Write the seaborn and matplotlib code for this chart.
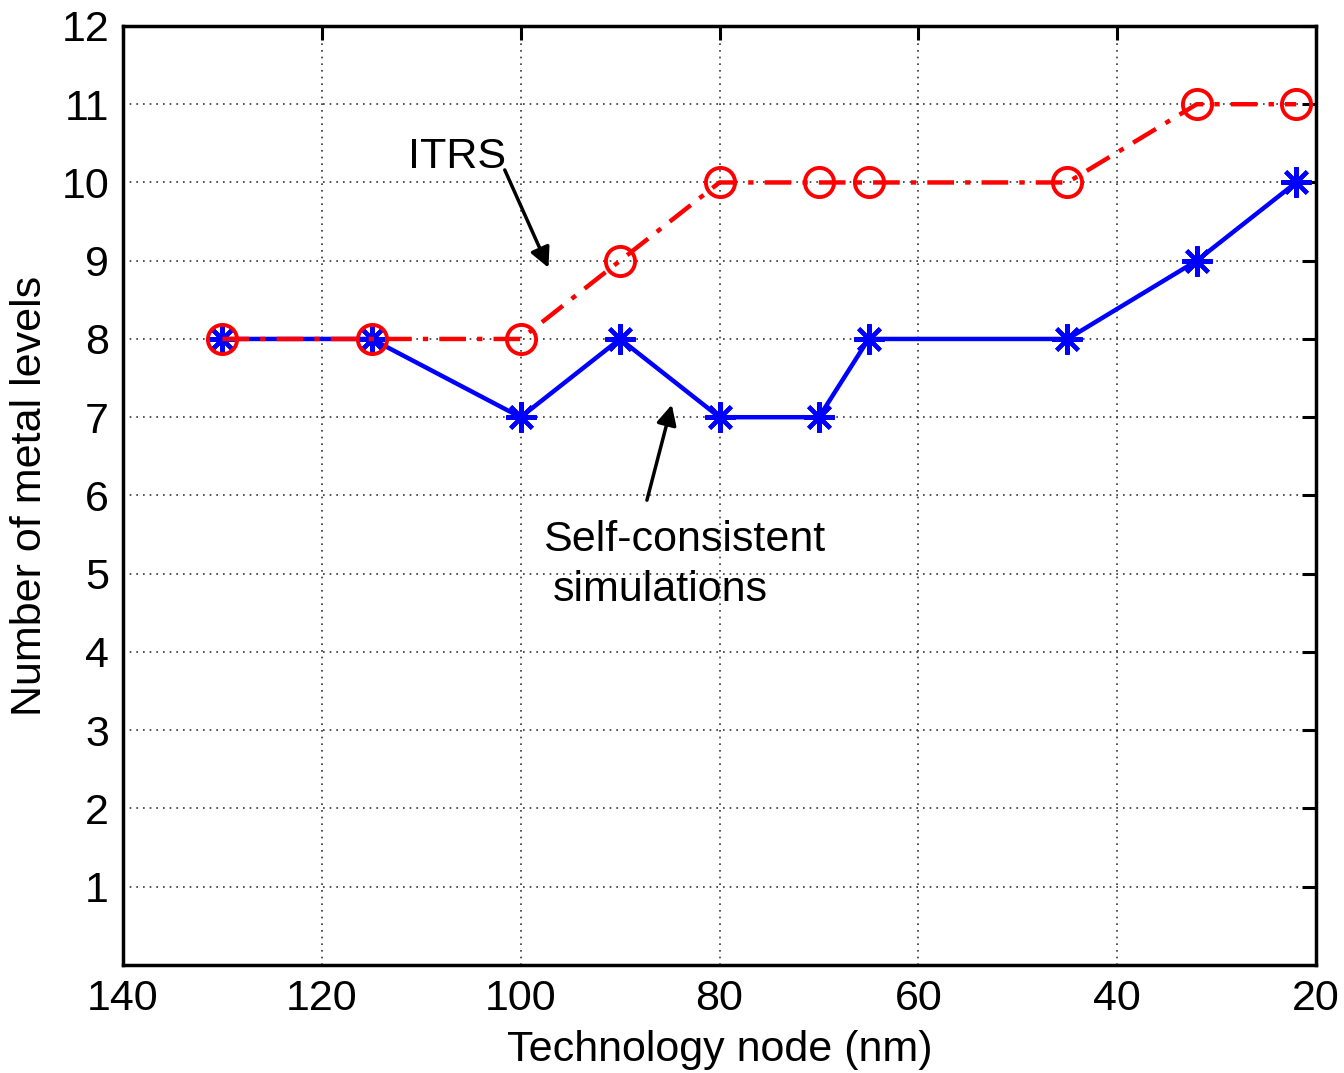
import matplotlib
matplotlib.use("Agg")
import matplotlib.pyplot as plt
import seaborn as sns
import pandas as pd

# Technology nodes (nm) and number of metal levels
nodes = [130, 115, 100, 90, 80, 70, 65, 45, 32, 22]
itrs_levels = [8, 8, 8, 9, 10, 10, 10, 10, 11, 11]
sim_levels = [8, 8, 7, 8, 7, 7, 8, 8, 9, 10]

x_ticks = [140, 120, 100, 80, 60, 40, 20]
y_ticks = list(range(1, 13))

sns.set_style("white")
plt.rcParams["font.family"] = ["Liberation Sans", "DejaVu Sans"]
plt.rcParams["text.color"] = "black"
plt.rcParams["axes.labelcolor"] = "black"
plt.rcParams["xtick.color"] = "black"
plt.rcParams["ytick.color"] = "black"

df_itrs = pd.DataFrame({"node": nodes, "levels": itrs_levels})
df_sim = pd.DataFrame({"node": nodes, "levels": sim_levels})

fig = plt.figure(figsize=(13.44, 10.73), dpi=100)
ax = fig.add_axes([0.0915, 0.1007, 0.8877, 0.8751])

sns.lineplot(data=df_sim, x="node", y="levels", ax=ax, color="#0000ff",
             linewidth=3.2, marker=(8, 2, 0), markersize=22,
             markeredgewidth=3, markeredgecolor="#0000ff", sort=False)
sns.lineplot(data=df_itrs, x="node", y="levels", ax=ax, color="#ff0000",
             linewidth=3.2, linestyle=(0, (6, 2.5, 1.2, 2.5)), marker="o",
             markersize=21, markerfacecolor="none", markeredgewidth=2.8,
             markeredgecolor="#ff0000", sort=False)

ax.set_xlim(140, 20)
ax.set_ylim(0, 12)
ax.set_xticks(x_ticks)
ax.set_yticks(y_ticks)
ax.tick_params(axis="both", direction="in", length=10, width=2.2,
               labelsize=31, top=True, right=True, pad=10)
ax.grid(True, linestyle=(0, (1, 3)), color="#333333", linewidth=1.2)

for s in ax.spines.values():
    s.set_linewidth(2.5)
    s.set_color("black")

ax.set_xlabel("Technology node (nm)", fontsize=31, labelpad=8)
ax.set_ylabel("Number of metal levels", fontsize=31, labelpad=8)

arrow_style = dict(arrowstyle="-|>", color="black", lw=2.5,
                   mutation_scale=30, shrinkA=0, shrinkB=0)
ax.text(111.3, 10.19, "ITRS", fontsize=31, ha="left", va="baseline")
ax.annotate("", xy=(97.2, 8.91), xytext=(101.6, 10.16),
            arrowprops=arrow_style)
ax.annotate("", xy=(84.8, 7.16), xytext=(87.3, 5.94),
            arrowprops=arrow_style)
ax.text(97.75, 5.43, "Self-consistent", fontsize=31, ha="left", va="center")
ax.text(96.75, 4.79, "simulations", fontsize=31, ha="left", va="center")

fig.savefig("out.png", dpi=100)
